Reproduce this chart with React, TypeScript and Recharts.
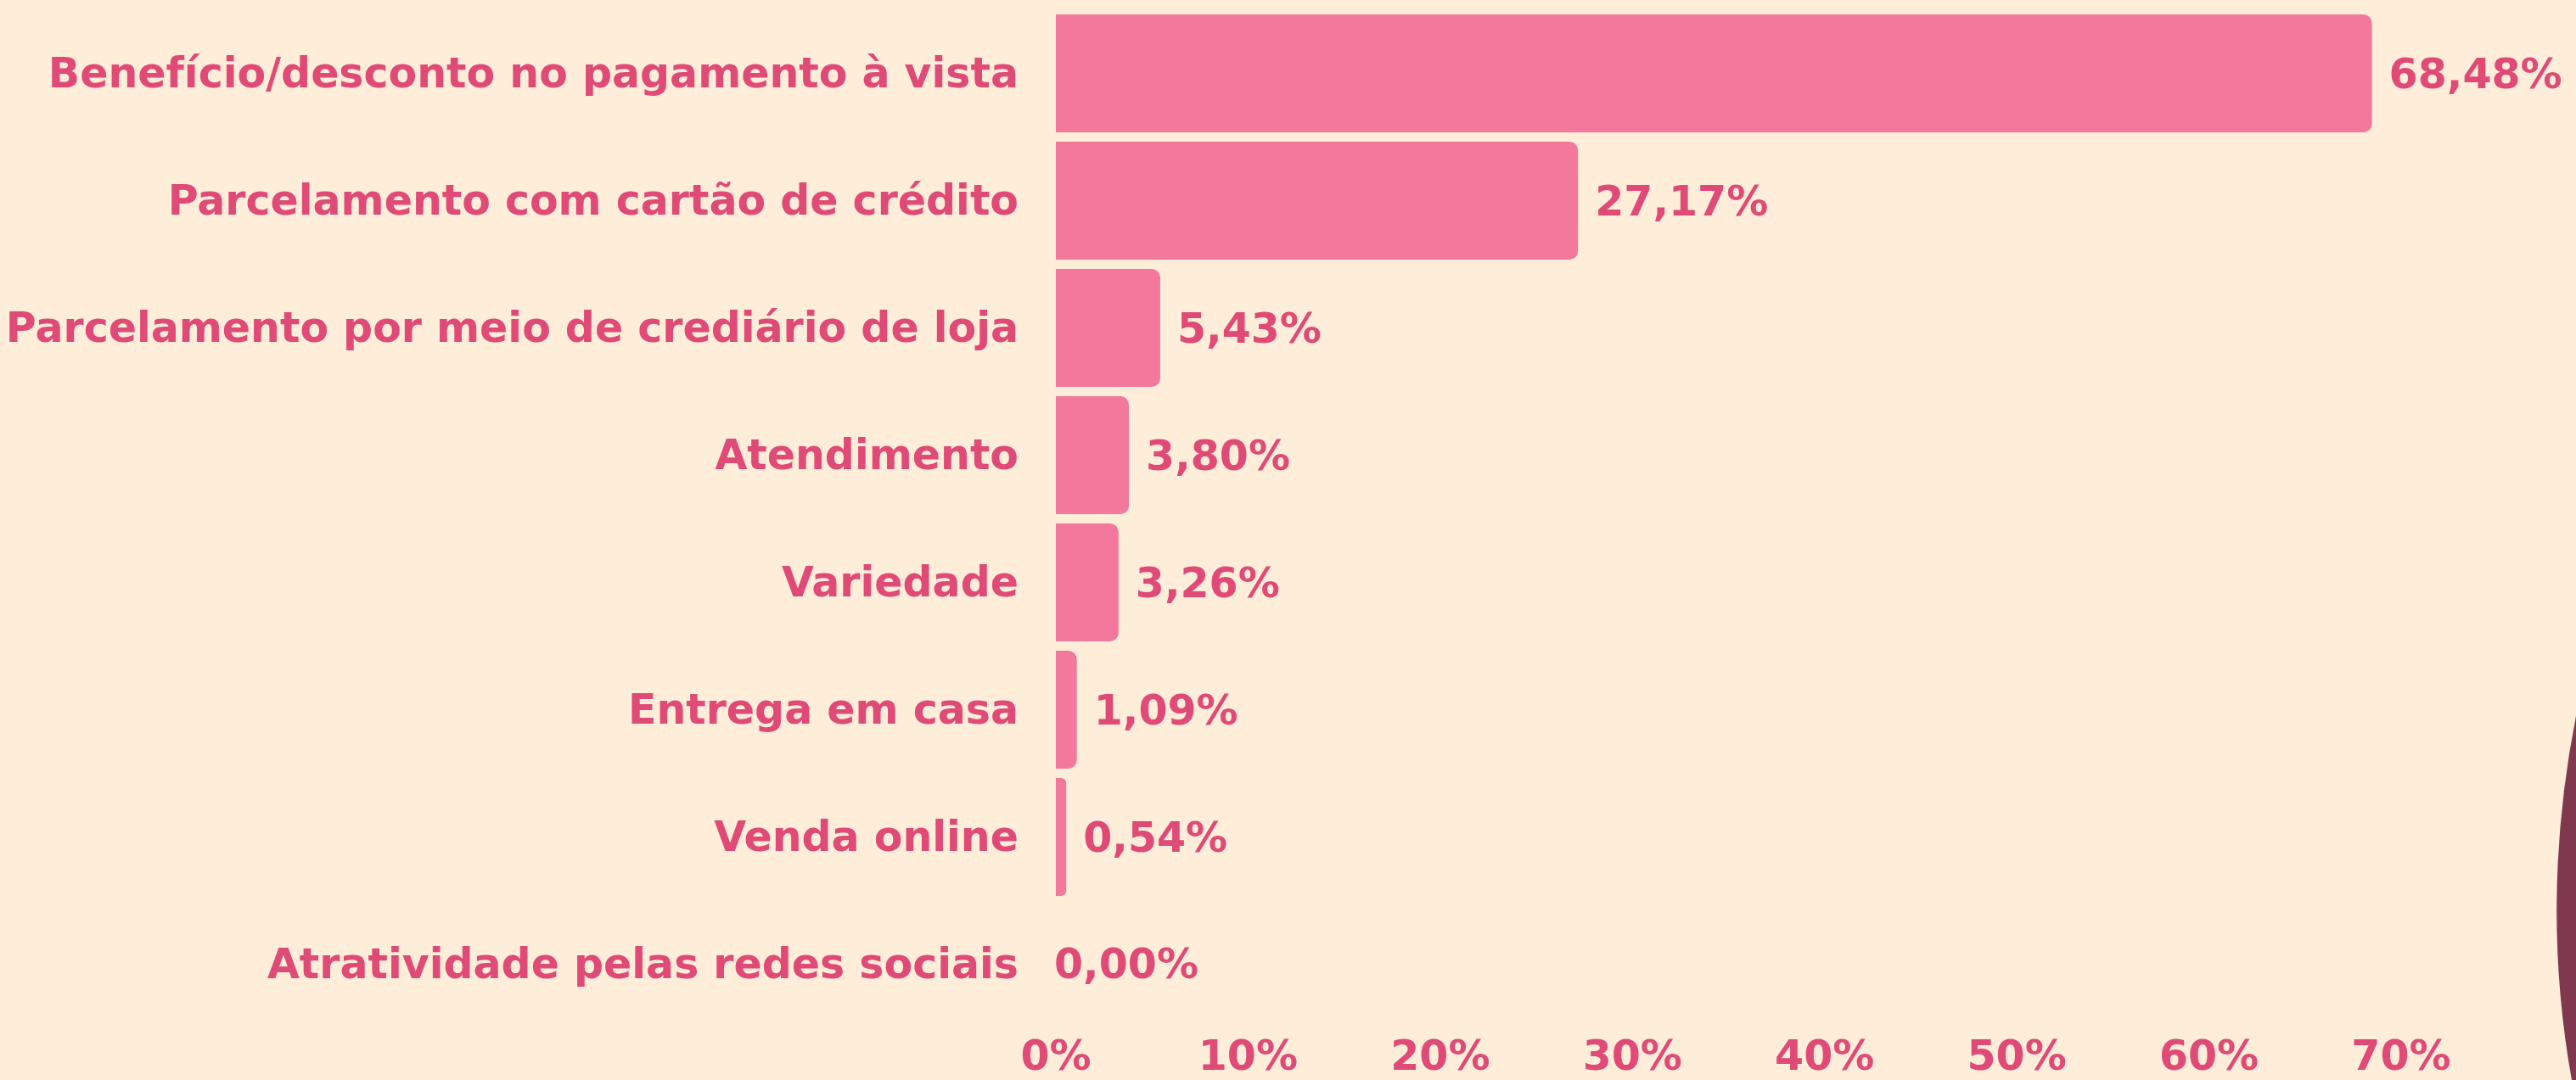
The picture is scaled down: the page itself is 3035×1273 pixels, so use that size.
import React from "react";
import { BarChart, Bar, XAxis, YAxis, LabelList, ReferenceDot } from "recharts";

const categories = [
  "Benefício/desconto no pagamento à vista",
  "Parcelamento com cartão de crédito",
  "Parcelamento por meio de crediário de loja",
  "Atendimento",
  "Variedade",
  "Entrega em casa",
  "Venda online",
  "Atratividade pelas redes sociais",
];
const values = [68.48, 27.17, 5.43, 3.8, 3.26, 1.09, 0.54, 0.0];
const xTicks = [0, 10, 20, 30, 40, 50, 60, 70];

const data = categories.map((name, i) => ({ name, value: values[i] }));

const BG = "#FDEDD9";
const BAR = "#F2789C";
const TEXT = "#E04A76";
const ARC = "#80384E";
const FONT = "'DejaVu Sans', sans-serif";
const FS = 49;

const fmt = (v: number) => v.toFixed(2).replace(".", ",") + "%";

const renderValueLabel = (props: any) => {
  const { x, y, width, height, value } = props;
  if (value === 0 || value == null) return null;
  return (
    <text
      x={Number(x) + Number(width) + 20}
      y={Number(y) + Number(height) / 2}
      dy="0.355em"
      textAnchor="start"
      fill={TEXT}
      fontSize={FS}
      fontWeight={700}
      fontFamily={FONT}
    >
      {fmt(Number(value))}
    </text>
  );
};

export default function App() {
  return (
    <div
      style={{
        position: "absolute",
        left: 0,
        top: 0,
        width: 3035,
        height: 1273,
        background: BG,
        overflow: "hidden",
      }}
    >
      <svg
        width={3035}
        height={1273}
        style={{ position: "absolute", left: 0, top: 0 }}
      >
        <path d="M 3040 820 Q 2990 1050 3030 1273 L 3040 1273 Z" fill={ARC} />
      </svg>
      <div style={{ position: "absolute", left: 0, top: 0 }}>
        <BarChart
          width={3035}
          height={1273}
          data={data}
          layout="vertical"
          margin={{ top: 11, right: 206, bottom: 0, left: 0 }}
        >
          <XAxis
            type="number"
            domain={[0, 70]}
            ticks={xTicks}
            tickFormatter={(v: number) => v + "%"}
            axisLine={false}
            tickLine={false}
            tickSize={0}
            tickMargin={15}
            height={62}
            tick={{ fill: TEXT, fontSize: FS, fontWeight: 700, fontFamily: FONT }}
          />
          <YAxis
            type="category"
            dataKey="name"
            width={1244}
            axisLine={false}
            tickLine={false}
            tickSize={0}
            tickMargin={44}
            interval={0}
            tick={{ fill: TEXT, fontSize: FS, fontWeight: 700, fontFamily: FONT }}
          />
          <Bar
            dataKey="value"
            fill={BAR}
            barSize={139}
            radius={[0, 10, 10, 0]}
            isAnimationActive={false}
          >
            <LabelList dataKey="value" content={renderValueLabel} />
          </Bar>
          {data
            .filter((d) => d.value === 0)
            .map((d) => (
              <ReferenceDot
                key={d.name}
                x={d.value}
                y={d.name}
                r={0}
                fill="none"
                stroke="none"
                ifOverflow="visible"
                label={{
                  value: fmt(d.value),
                  position: "right",
                  offset: -2,
                  fill: TEXT,
                  fontSize: FS,
                  fontWeight: 700,
                  fontFamily: FONT,
                }}
              />
            ))}
        </BarChart>
      </div>
    </div>
  );
}
